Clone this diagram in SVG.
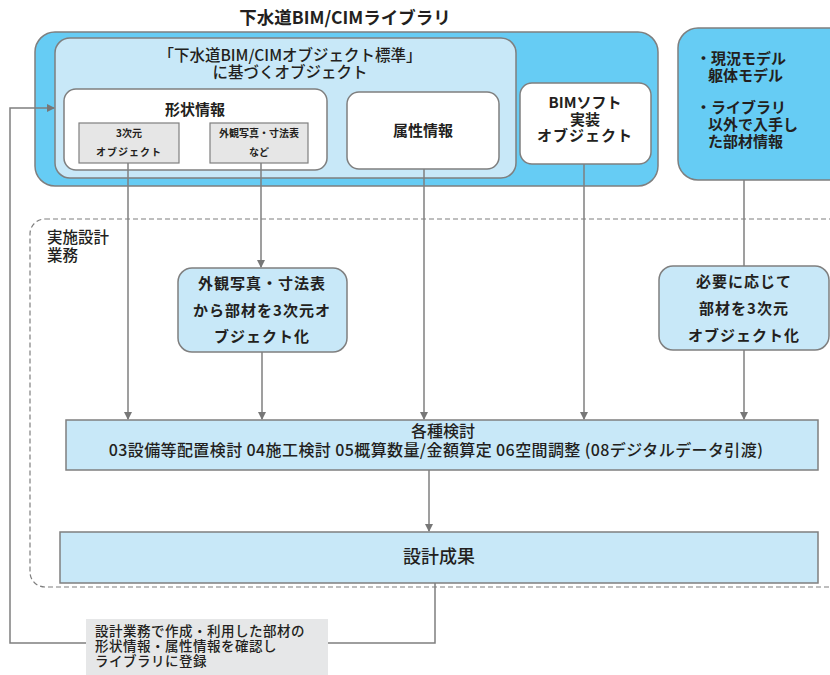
<svg xmlns="http://www.w3.org/2000/svg" width="830" height="675" viewBox="0 0 830 675">
<defs>
<marker id="ah" markerWidth="8" markerHeight="8" refX="7" refY="4" orient="auto" markerUnits="userSpaceOnUse">
<path d="M0,0 L8,4 L0,8 Z" fill="#777"/>
</marker>
<style>
text{font-family:"Noto Sans CJK JP","Noto Sans",sans-serif;fill:#231f20;}
.b{font-weight:700;}
.m{font-weight:500;}
.c{text-anchor:middle;}
.blue{fill:#66ccf4;stroke:#7f7f7f;stroke-width:1.5;}
.lb{fill:#c8e8f8;stroke:#7f7f7f;stroke-width:1.5;}
.wh{fill:#fff;stroke:#7f7f7f;stroke-width:1.5;}
.gr{fill:#e6e6e6;stroke:#7f7f7f;stroke-width:1.2;}
.ln{fill:none;stroke:#7f7f7f;stroke-width:1.5;}
</style>
</defs>
<rect width="830" height="675" fill="#fff"/>

<g id="title"><text class="c b" x="345" y="24" font-size="17.5">下水道BIM/CIMライブラリ</text></g>

<g id="library">
<rect class="blue" x="35" y="32" width="623" height="154" rx="20"/>
</g>
<g id="standard">
<rect class="lb" x="55" y="38" width="461" height="140" rx="15"/>
<text class="c m" x="290" y="61" font-size="15.5">「下水道BIM/CIMオブジェクト標準」</text>
<text class="c m" x="290" y="78" font-size="15.5">に基づくオブジェクト</text>
</g>
<g id="shape">
<rect class="wh" x="64" y="89" width="263" height="81" rx="12"/>
<text class="c b" x="195" y="115" font-size="15">形状情報</text>
</g>
<g id="obj3d">
<rect class="gr" x="79" y="123" width="100" height="40"/>
<text class="c b" x="129" y="137" font-size="10">3次元</text>
<text class="c b" x="129" y="156" font-size="10" letter-spacing="1">オブジェクト</text>
</g>
<g id="photo">
<rect class="gr" x="210" y="123" width="98" height="40"/>
<text class="c b" x="259" y="137" font-size="10">外観写真・寸法表</text>
<text class="c b" x="259" y="156" font-size="10">など</text>
</g>
<g id="attr">
<rect class="wh" x="347" y="92" width="152" height="77" rx="12"/>
<text class="c b" x="423" y="136" font-size="15">属性情報</text>
</g>
<g id="bimsoft">
<rect class="wh" x="520" y="83" width="131" height="81" rx="12"/>
<text class="c b" x="585" y="108" font-size="15">BIMソフト</text>
<text class="c b" x="585" y="125" font-size="15">実装</text>
<text class="c b" x="585" y="141" font-size="15" letter-spacing="1">オブジェクト</text>
</g>
<g id="external">
<rect class="blue" x="678" y="28" width="170" height="152" rx="20"/>
<text class="b" x="696" y="64" font-size="15">・現況モデル</text>
<text class="b" x="708" y="81" font-size="15">躯体モデル</text>
<text class="b" x="696" y="113" font-size="15">・ライブラリ</text>
<text class="b" x="708" y="130" font-size="15">以外で入手し</text>
<text class="b" x="708" y="147" font-size="15">た部材情報</text>
</g>

<g id="design">
<path d="M45,219 H845 V587 H45 A15,15 0 0 1 30,572 V234 A15,15 0 0 1 45,219 Z" fill="none" stroke="#7f7f7f" stroke-width="1.2" stroke-dasharray="5,3"/>
<text class="m" x="47" y="243" font-size="15.5">実施設計</text>
<text class="m" x="47" y="261" font-size="15.5">業務</text>
</g>
<g id="convert">
<rect class="lb" x="178" y="268" width="169" height="84" rx="14"/>
<text class="c b" x="262" y="289" font-size="15" letter-spacing="1">外観写真・寸法表</text>
<text class="c b" x="262" y="316" font-size="15" letter-spacing="1">から部材を3次元オ</text>
<text class="c b" x="262" y="342" font-size="15" letter-spacing="1">ブジェクト化</text>
</g>
<g id="asneeded">
<rect class="lb" x="659" y="266" width="170" height="84" rx="14"/>
<text class="c b" x="744" y="287" font-size="15" letter-spacing="1">必要に応じて</text>
<text class="c b" x="744" y="314" font-size="15" letter-spacing="1">部材を3次元</text>
<text class="c b" x="744" y="341" font-size="15" letter-spacing="1">オブジェクト化</text>
</g>
<g id="studies">
<rect class="lb" x="66" y="420" width="752" height="50"/>
<text class="c m" x="443" y="437" font-size="16">各種検討</text>
<text class="c m" x="436" y="456" font-size="16" letter-spacing="0.4">03設備等配置検討 04施工検討 05概算数量/金額算定 06空間調整 (08デジタルデータ引渡)</text>
</g>
<g id="result">
<rect class="lb" x="60" y="532" width="758" height="51"/>
<text class="c m" x="439" y="563" font-size="18">設計成果</text>
</g>

<g id="connectors">
<path class="ln" d="M128,163 V419" marker-end="url(#ah)"/>
<path class="ln" d="M261,163 V267" marker-end="url(#ah)"/>
<path class="ln" d="M262,352 V419" marker-end="url(#ah)"/>
<path class="ln" d="M424,169 V419" marker-end="url(#ah)"/>
<path class="ln" d="M584,164 V419" marker-end="url(#ah)"/>
<path class="ln" d="M744,180 V266"/>
<path class="ln" d="M744,350 V419" marker-end="url(#ah)"/>
<path class="ln" d="M429,470 V531" marker-end="url(#ah)"/>
<path class="ln" d="M435,583 V643 H10 V108 H54" marker-end="url(#ah)"/>
</g>

<g id="register">
<rect x="86" y="619" width="242" height="56" fill="#e6e7e8"/>
<text class="m" x="95" y="636" font-size="13.5" letter-spacing="0.5">設計業務で作成・利用した部材の</text>
<text class="m" x="95" y="651" font-size="13.5" letter-spacing="0.5">形状情報・属性情報を確認し</text>
<text class="m" x="95" y="666" font-size="13.5" letter-spacing="0.5">ライブラリに登録</text>
</g>
</svg>
